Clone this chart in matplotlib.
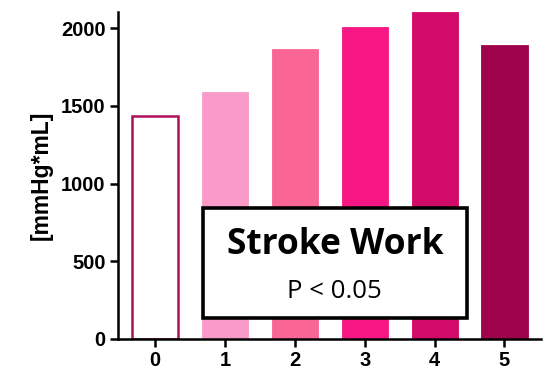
import matplotlib

matplotlib.use("Agg")
import matplotlib.pyplot as plt
from matplotlib.patches import Rectangle

# data
groups = ["0", "1", "2", "3", "4", "5"]
stroke_work = [1435, 1591, 1864, 2010, 2102, 1890]
bar_colors = ["#FFFFFF", "#F99AC8", "#F96696", "#F71784", "#D20A6A", "#A0034E"]
edge_colors = ["#B0105A", "#F99AC8", "#F96696", "#F71784", "#D20A6A", "#A0034E"]
y_ticks = [0, 500, 1000, 1500, 2000]

fig = plt.figure(figsize=(5.47, 3.75), dpi=100)
ax = fig.add_axes([0.2157, 0.096, 0.773, 0.873])

x = list(range(len(groups)))
ax.bar(x, stroke_work, width=0.66, color=bar_colors, edgecolor=edge_colors,
       linewidth=[1.8, 0.6, 0.6, 0.6, 0.6, 0.6], zorder=2)

ax.set_xlim(-0.53, 5.52)
ax.set_ylim(0, 2106)
ax.set_xticks(x)
ax.set_xticklabels(groups)
ax.set_yticks(y_ticks)

for side in ("top", "right"):
    ax.spines[side].set_visible(False)
for side in ("left", "bottom"):
    ax.spines[side].set_linewidth(1.8)

ax.tick_params(axis="both", width=1.8, length=6, labelsize=14.5, pad=3)
for lab in ax.get_xticklabels() + ax.get_yticklabels():
    lab.set_fontfamily("Liberation Sans")
    lab.set_fontweight("bold")

ax.set_ylabel("[mmHg*mL]", fontsize=16.5, fontweight="bold",
              fontfamily="Liberation Sans", labelpad=6)

# annotation box in figure coordinates
box = Rectangle((0.371, 0.152), 0.482, 0.293, transform=fig.transFigure,
                facecolor="white", edgecolor="black", linewidth=2.6, zorder=5)
fig.patches.append(box)
fig.text(0.612, 0.347, "Stroke Work", ha="center", va="center",
         fontsize=25.5, fontweight="bold", fontfamily="Open Sans", zorder=6)
fig.text(0.612, 0.222, "P < 0.05", ha="center", va="center",
         fontsize=18.5, fontfamily="Open Sans", zorder=6)

fig.savefig("out.png", dpi=100)
